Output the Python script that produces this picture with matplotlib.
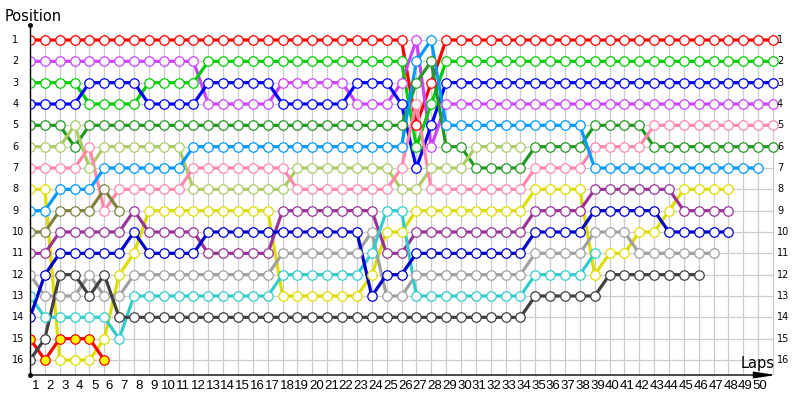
import numpy as np
import matplotlib
matplotlib.use("Agg")
import matplotlib.pyplot as plt
from matplotlib.patches import FancyArrowPatch

# positions per lap (lap 0 = grid), list length = last lap reached
red = [1]*26 + [5, 3] + [1]*23
purple = [2]*12 + [4]*5 + [3]*5 + [4]*3 + [3, 1, 6] + [4]*23
green = [3]*4 + [4]*4 + [3]*4 + [2]*14 + [6, 4] + [2]*23
blue = [4]*4 + [3]*4 + [4]*4 + [3]*5 + [4]*5 + [3]*3 + [4, 7, 5] + [3]*23
dkgreen = [5]*3 + [6] + [5]*22 + [3, 2] + [6]*2 + [7]*4 + [6]*4 + [5]*4 + [6]*9
ltolive = [6]*3 + [5, 7] + [6]*6 + [8]*7 + [7]*7 + [8]*2 + [7]*3 + [6]*4
pink = [7]*4 + [6, 9] + [8]*5 + [7]*7 + [8]*7 + [7, 4] + [8]*7 + [7]*4 + [6]*4 + [5]*9
yellow = [8]*2 + [16]*3 + [15, 12, 11] + [9]*9 + [13]*6 + [12] + [10]*2 + [9]*8 + [8]*4 + [12] + [11]*2 + [10]*2 + [9] + [8]*4
skyblue = [9]*2 + [8]*3 + [7]*6 + [6]*15 + [2, 1] + [5]*10 + [7]*12
olive = [10]*2 + [9]*3 + [8, 9]
dkpurple = [11]*2 + [10]*5 + [9] + [10]*4 + [11]*5 + [9]*7 + [11]*2 + [10]*8 + [9]*4 + [8]*6 + [9]*4
grey = [12] + [13]*3 + [12] + [13]*2 + [12]*10 + [11]*6 + [10] + [13]*2 + [12]*8 + [11]*4 + [10]*3 + [11]*6
teal = [13] + [14]*5 + [15] + [13]*10 + [12]*6 + [11] + [9]*2 + [13]*8 + [12]*4 + [11]
navy = [14, 12] + [11]*5 + [10] + [11]*4 + [10]*11 + [13] + [12]*2 + [11]*8 + [10]*4 + [9]*5 + [10]*5
red2 = [15, 16, 15, 15, 15, 16]
dkgrey = [16, 15, 12, 12, 13, 12] + [14]*28 + [13]*5 + [12]*7

drivers = [
    (red, '#ff0000', 'white'),
    (purple, '#cc44ff', 'white'),
    (green, '#00cc00', 'white'),
    (blue, '#0000ff', 'white'),
    (dkgreen, '#229922', 'white'),
    (ltolive, '#aacc66', 'white'),
    (pink, '#ff88aa', 'white'),
    (yellow, '#dddd00', 'white'),
    (skyblue, '#0099ff', 'white'),
    (olive, '#808040', 'white'),
    (dkpurple, '#993399', 'white'),
    (grey, '#a0a0a0', 'white'),
    (teal, '#33cccc', 'white'),
    (navy, '#0000cc', 'white'),
    (red2, '#ff0000', '#ffff00'),
    (dkgrey, '#404040', 'white'),
]

n_laps = 50
n_pos = 16

fig = plt.figure(figsize=(8, 4), dpi=100)
ax = fig.add_axes([30/800, 25/400, 750/800, 350/400])
ax.set_xlim(0, 750/14.86)
ax.set_ylim(16.703, 0.297)
ax.axis('off')

# grid
ax.vlines(np.arange(1, n_laps + 1), 0.67, 16.703, color='#cccccc', lw=0.9, zorder=0)
ax.hlines(np.arange(1, n_pos + 1), 0, n_laps, color='#cccccc', lw=0.9, zorder=0)

for pos, c, fc in drivers:
    laps = np.arange(len(pos))
    ax.plot(laps, pos, color=c, lw=2.3, solid_joinstyle='round', zorder=2)
    ax.plot(laps, pos, ls='none', marker='o', ms=6.8, mfc=fc, mec=c, mew=0.9, zorder=3)

# axes lines
ax.plot([0, 0], [0.297, 16.703], color='black', lw=1, clip_on=False, zorder=4)
ax.plot([0, 0], [0.297, 16.703], ls='none', marker='o', ms=2.5, color='black', clip_on=False, zorder=4)
arr = FancyArrowPatch((0, 16.703), (50.4, 16.703), arrowstyle='-|>,head_length=1.0,head_width=0.15',
                      mutation_scale=13, color='black', lw=1, clip_on=False, zorder=4)
ax.add_patch(arr)

# labels
for p in range(1, n_pos + 1):
    ax.text(-1.2, p, str(p), ha='left', va='center', fontsize=7, clip_on=False)
    ax.text(50.27, p, str(p), ha='left', va='center', fontsize=7, clip_on=False)
for n in range(1, n_laps + 1):
    ax.text(0.37 + (n - 1)*0.9953, 17.2, str(n), ha='center', va='center',
            fontsize=9.5, family='Liberation Sans', clip_on=False)

fig.text(5/800, 1 - 21/400, 'Position', fontsize=10.5, va='baseline', ha='left')
fig.text(775/800, 1 - 368/400, 'Laps', fontsize=10.5, va='baseline', ha='right')

fig.savefig('out.png', dpi=100)
